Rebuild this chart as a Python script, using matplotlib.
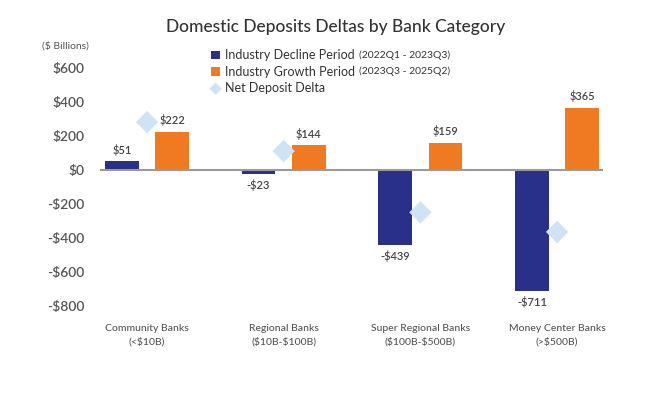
import matplotlib
matplotlib.use("Agg")
import matplotlib.pyplot as plt
import numpy as np

plt.rcParams['font.family'] = ['Lato', 'DejaVu Sans']

categories = ["Community Banks\n(<\\$10B)", "Regional Banks\n(\\$10B-\\$100B)",
              "Super Regional Banks\n(\\$100B-\\$500B)", "Money Center Banks\n(>\\$500B)"]
decline = [51, -23, -439, -711]
growth = [222, 144, 159, 365]
net_delta = [280, 110, -250, -365]
yticks = [600, 400, 200, 0, -200, -400, -600, -800]
ytick_labels = ["$600", "$400", "$200", "$0", "-$200", "-$400", "-$600", "-$800"]
series_labels = ["Industry Decline Period", "Industry Growth Period", "Net Deposit Delta"]
series_periods = ["(2022Q1 - 2023Q3)", "(2023Q3 - 2025Q2)", ""]

BLUE = "#28308a"
ORANGE = "#f07a22"
LIGHT = "#cfe3f6"
TXT = "#444444"

fig = plt.figure(figsize=(6.7, 3.99), dpi=100)
ax = fig.add_axes([100/670, 1-306/399, 503/670, 246/399])

x = np.arange(len(categories))
w = 0.245
off = 0.184
b1 = ax.bar(x - off, decline, w, color=BLUE, zorder=2, label=series_labels[0])
b2 = ax.bar(x + off, growth, w, color=ORANGE, zorder=2, label=series_labels[1])
sc = ax.scatter(x, net_delta, marker='D', s=130, color=LIGHT, zorder=4,
                edgecolors='none', label=series_labels[2])
ax.axhline(0, color="#9a9a9a", lw=1.5, zorder=3)

for bars, vals in ((b1, decline), (b2, growth)):
    for r, v in zip(bars, vals):
        lab = f"${v}" if v >= 0 else f"-${abs(v)}"
        lab = lab.replace("$", "\\$")
        if v >= 0:
            ax.annotate(lab, (r.get_x() + r.get_width()/2, v), xytext=(0, 4),
                        textcoords='offset points', ha='center', va='bottom',
                        fontsize=8, color=TXT, fontweight='semibold')
        else:
            ax.annotate(lab, (r.get_x() + r.get_width()/2, v), xytext=(0, -4),
                        textcoords='offset points', ha='center', va='top',
                        fontsize=8, color=TXT, fontweight='semibold')

ax.set_xlim(-0.344, 3.336)
ax.set_ylim(-800, 645)
ax.set_yticks(yticks)
ax.set_yticklabels([t.replace("$", "\\$") for t in ytick_labels], fontsize=10,
                   color="#555555", fontweight='semibold')
ax.set_xticks(x)
ax.set_xticklabels(categories, fontsize=7.5, color="#555555", linespacing=1.5,
                   fontweight='medium')
ax.tick_params(axis='both', length=0)
ax.tick_params(axis='y', pad=11)
ax.tick_params(axis='x', pad=13)
for s in ax.spines.values():
    s.set_visible(False)

fig.text(65/670, 1-46/399, "(\\$ Billions)", ha='center', va='center',
         fontsize=7.5, color="#555555")
fig.text(336/670, 1-27/399, "Domestic Deposits Deltas by Bank Category",
         ha='center', va='center', fontsize=12.5, color="#333333", fontweight='medium')

leg = fig.legend(handles=[b1, b2, sc], labels=series_labels, loc='upper left',
                 bbox_to_anchor=(205/670, 1-43/399), frameon=False, fontsize=9,
                 handlelength=0.7, handleheight=0.7, handletextpad=0.4,
                 labelspacing=0.35, borderpad=0, labelcolor="#333333")
leg.legend_handles[2].set_sizes([40])

fig.canvas.draw()
r = fig.canvas.get_renderer()
for t, per in zip(leg.get_texts(), series_periods):
    if per:
        bb = t.get_window_extent(r)
        cy = (bb.y0 + bb.y1) / 2
        fig.text((bb.x1 + 4) / fig.bbox.width, cy / fig.bbox.height, per,
                 ha='left', va='center', fontsize=7.5, color="#333333")

fig.savefig("out.png", dpi=100, facecolor='white')
